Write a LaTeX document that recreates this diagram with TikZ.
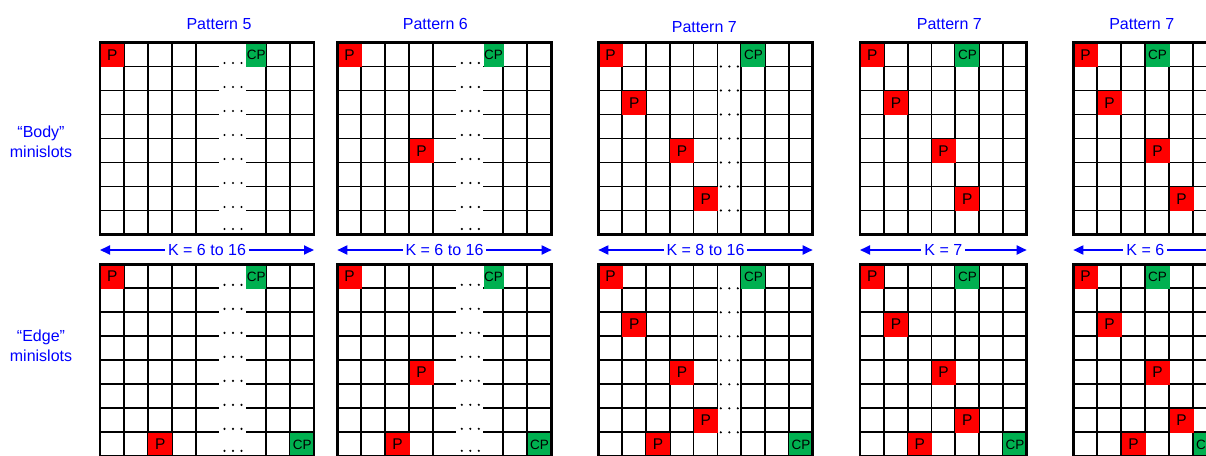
\documentclass[tikz,border=0pt]{standalone}
\usepackage{fontspec}
\setmainfont{Liberation Sans}
\usetikzlibrary{arrows.meta}
\definecolor{slotblue}{RGB}{0,0,255}
\definecolor{slotred}{RGB}{255,0,0}
\definecolor{slotgreen}{RGB}{0,176,80}

\begin{document}
\begin{tikzpicture}[
  x=1pt, y=-1pt,
  font=\fontsize{16}{20}\selectfont,
  gridline/.style={line width=1.8pt, draw=black},
  gridframe/.style={line width=2.9pt, draw=black},
  slotdot/.style={fill=black, draw=none},
  pcell/.style={fill=slotred, anchor=north west, minimum width=24pt, minimum height=24pt,
    inner sep=0pt, font=\fontsize{15.5}{18}\selectfont},
  cpcell/.style={pcell, fill=slotgreen, font=\fontsize{13.5}{15}\selectfont},
  narrowcp/.style={cpcell, minimum width=20pt},
  title/.style={text=slotblue},
  sidelabel/.style={text=slotblue, align=center},
  dimarrow/.style={{Triangle[length=10pt,width=9pt]}-{Triangle[length=10pt,width=9pt]},
    line width=1.8pt, draw=slotblue},
  klabel/.style={fill=white, text=slotblue, inner xsep=3pt, inner ysep=1pt}
]
\useasboundingbox (0,0) rectangle (1206,455);
\clip (0,0) rectangle (1206,455);

\node[title] (t5) at (219,24) {Pattern 5};
\node[title] (t6) at (435.3,24) {Pattern 6};
\node[title] (t7) at (704.3,27.5) {Pattern 7};
\node[title] (u7) at (949.3,24) {Pattern 7};
\node[title] (v7) at (1141.7,24) {Pattern 7};

\node[sidelabel] (body) at (41,141.5) {“Body”\\minislots};
\node[sidelabel] (edge) at (41,346) {“Edge”\\minislots};

% grids with a wide dotted column
\foreach \gx/\gy in {100/42.5, 100/264.3, 337.3/42.5, 337.3/264.3} {
  \begin{scope}[shift={(\gx,\gy)}]
    \foreach \x in {24,48,72,96,166,190}
      \draw[gridline] (\x,0) -- (\x,192);
    \foreach \k in {1,...,7} {
      \draw[gridline] (0,24*\k) -- (119,24*\k);
      \draw[gridline] (146,24*\k) -- (214,24*\k);
      \foreach \d in {-8.5,0,8.5}
        \fill[slotdot] (133+\d,24*\k-3.5) circle (1.2pt);
    }
    \foreach \d in {-8.5,0,8.5}
      \fill[slotdot] (133+\d,186.5) circle (1.2pt);
  \end{scope}
}

% plain grids, one with a gap column
\foreach \gx/\gy/\nc/\cw/\gap in {598.3/42.5/9/23.82/6, 598.3/264.3/9/23.82/6,
    860/42.5/7/23.81/0, 860/264.3/7/23.81/0, 1073.3/42.5/6/24/0, 1073.3/264.3/6/24/0} {
  \begin{scope}[shift={(\gx,\gy)}]
    \pgfmathtruncatemacro\lastc{\nc-1}
    \foreach \c in {1,...,\lastc}
      \draw[gridline] ({\c*\cw},0) -- ({\c*\cw},192);
    \foreach \k in {1,...,7} {
      \ifnum\gap=0
        \draw[gridline] (0,24*\k) -- ({\nc*\cw},24*\k);
      \else
        \draw[gridline] (0,24*\k) -- ({(\gap-1)*\cw},24*\k);
        \draw[gridline] ({\gap*\cw},24*\k) -- ({\nc*\cw},24*\k);
        \foreach \d in {-8.5,0,8.5}
          \fill[slotdot] ({(\gap-0.5)*\cw+\d},24*\k) circle (1.2pt);
      \fi
    }
  \end{scope}
}

% pilot cells
\foreach \n/\x/\y in {p5a/100/42.5, p5b/100/264.3, p5c/148/432.3,
    p6a/337.3/42.5, p6b/409.3/138.5, p6c/337.3/264.3, p6d/409.3/360.3, p6e/385.3/432.3,
    p7a/598.3/42.5, p7b/622.1/90.5, p7c/669.8/138.5, p7d/693.6/186.5,
    p7e/598.3/264.3, p7f/622.1/312.3, p7g/669.8/360.3, p7h/693.6/408.3, p7i/645.9/432.3,
    q7a/860/42.5, q7b/883.8/90.5, q7c/931.4/138.5, q7d/955.2/186.5,
    q7e/860/264.3, q7f/883.8/312.3, q7g/931.4/360.3, q7h/955.2/408.3, q7i/907.6/432.3,
    r7a/1073.3/42.5, r7b/1097.3/90.5, r7c/1145.3/138.5, r7d/1169.3/186.5,
    r7e/1073.3/264.3, r7f/1097.3/312.3, r7g/1145.3/360.3, r7h/1169.3/408.3, r7i/1121.3/432.3}
  \node[pcell] (\n) at (\x,\y) {P};

% cp cells
\node[narrowcp] (cp5a) at (246,42.5) {CP};
\node[narrowcp] (cp5b) at (246,264.3) {CP};
\node[cpcell] (cp5c) at (290,432.3) {CP};
\node[narrowcp] (cp6a) at (483.3,42.5) {CP};
\node[narrowcp] (cp6b) at (483.3,264.3) {CP};
\node[cpcell] (cp6c) at (527.3,432.3) {CP};
\node[cpcell] (cp7a) at (741.2,42.5) {CP};
\node[cpcell] (cp7b) at (741.2,264.3) {CP};
\node[cpcell] (cp7c) at (788.9,432.3) {CP};
\node[cpcell] (cq7a) at (955.2,42.5) {CP};
\node[cpcell] (cq7b) at (955.2,264.3) {CP};
\node[cpcell] (cq7c) at (1002.9,432.3) {CP};
\node[cpcell] (cr7a) at (1145.3,42.5) {CP};
\node[cpcell] (cr7b) at (1145.3,264.3) {CP};
\node[cpcell] (cr7c) at (1193.3,432.3) {CP};

% outer frames
\foreach \gx/\gy/\gw in {100/42.5/214, 100/264.3/214, 337.3/42.5/214.4, 337.3/264.3/214.4,
    598.3/42.5/214.4, 598.3/264.3/214.4, 860/42.5/166.7, 860/264.3/166.7,
    1073.3/42.5/144, 1073.3/264.3/144}
  \draw[gridframe] (\gx,\gy) rectangle ++(\gw,192);

% K ranges
\coordinate (k5l) at (100,250);    \coordinate (k5r) at (314,250);
\coordinate (k6l) at (337.3,250);  \coordinate (k6r) at (551.7,250);
\coordinate (k7l) at (598.3,250);  \coordinate (k7r) at (812.7,250);
\coordinate (j7l) at (860,250);    \coordinate (j7r) at (1026.7,250);
\coordinate (i7l) at (1073.3,250); \coordinate (i7r) at (1217.3,250);

\draw[dimarrow] (k5l) -- node[klabel] {K = 6 to 16} (k5r);
\draw[dimarrow] (k6l) -- node[klabel] {K = 6 to 16} (k6r);
\draw[dimarrow] (k7l) -- node[klabel] {K = 8 to 16} (k7r);
\draw[dimarrow] (j7l) -- node[klabel] {K = 7} (j7r);
\draw[dimarrow] (i7l) -- node[klabel] {K = 6} (i7r);

\end{tikzpicture}
\end{document}
